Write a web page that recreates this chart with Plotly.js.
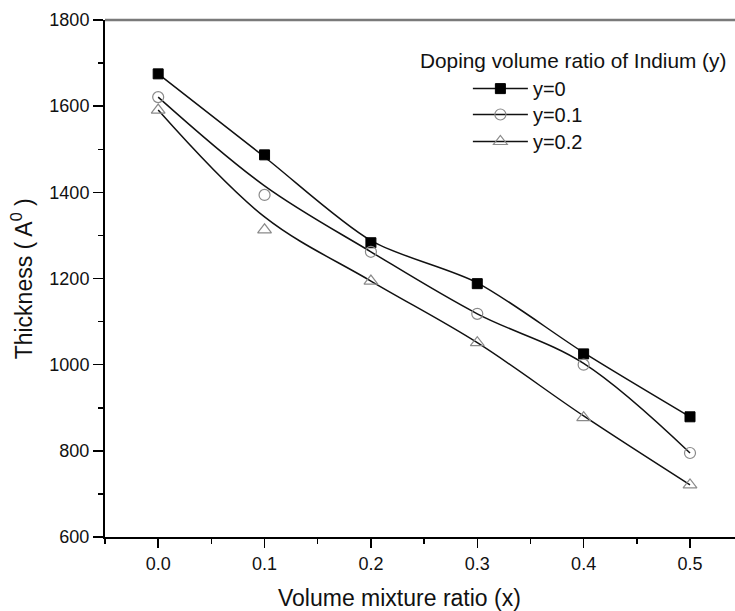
<!DOCTYPE html>
<html><head><meta charset="utf-8">
<script src="https://cdn.plot.ly/plotly-3.0.1.min.js"></script>
<style>html,body{margin:0;padding:0;background:#fff}#chart{width:735px;height:611px}</style>
</head><body><div id="chart"></div>
<script>
// data
const xValues = [0, 0.1, 0.2, 0.3, 0.4, 0.5];
const seriesNames = ['y=0', 'y=0.1', 'y=0.2'];
const thickY0  = [1675, 1487, 1283, 1188, 1025, 879];
const thickY01 = [1621, 1394, 1262, 1118, 1000, 795];
const thickY02 = [1591, 1313, 1194, 1051, 877, 721];
// smoothed fit curves as drawn in the reference (values read at the same x)
const fitY0  = [1675, 1482, 1288, 1190, 1028, 879];
const fitY01 = [1621, 1415, 1262, 1118, 1003, 795];
const fitY02 = [1591, 1343, 1194, 1051, 881, 721];
const xTickVals = [0, 0.1, 0.2, 0.3, 0.4, 0.5];
const xTickText = ['0.0', '0.1', '0.2', '0.3', '0.4', '0.5'];
const yTickVals = [600, 800, 1000, 1200, 1400, 1600, 1800];

const FONT = 'Liberation Sans, Arial, sans-serif';
const markerStyles = [
  {symbol: 'square', size: 10, color: '#000', line: {color: '#000', width: 1}},
  {symbol: 'circle-open', size: 11, color: '#8a8a8a', line: {color: '#8a8a8a', width: 1.2}},
  {symbol: 'triangle-up-open', size: 12, color: '#8a8a8a', line: {color: '#8a8a8a', width: 1.2}}
];
const dataSets = [thickY0, thickY01, thickY02];
const fitSets = [fitY0, fitY01, fitY02];
const smoothings = [0.8, 1.0, 1.0];
const legendIds = ['legend', 'legend2', 'legend3'];

const traces = [];
for (let i = 0; i < 3; i++) {
  traces.push({x: xValues, y: fitSets[i], mode: 'lines', type: 'scatter',
    line: {color: '#111', width: 1.5, shape: 'spline', smoothing: smoothings[i]}, showlegend: false, hoverinfo: 'skip'});
}
for (let i = 0; i < 3; i++) {
  traces.push({x: xValues, y: dataSets[i], mode: 'markers', type: 'scatter',
    marker: markerStyles[i], showlegend: false, name: seriesNames[i]});
}
for (let i = 0; i < 3; i++) {
  traces.push({x: [null], y: [null], mode: 'lines+markers', type: 'scatter', name: seriesNames[i],
    line: {color: '#111', width: 1.5}, marker: markerStyles[i], showlegend: true, legend: legendIds[i]});
}

function legendAt(yPaper) {
  return {x: 0.576, xanchor: 'left', y: yPaper, yanchor: 'top', bgcolor: 'rgba(0,0,0,0)',
    font: {family: FONT, size: 20, color: '#111'}, itemwidth: 55};
}

const layout = {
  width: 735, height: 611,
  margin: {l: 105, r: 0, t: 20, b: 74},
  paper_bgcolor: '#fff', plot_bgcolor: '#fff',
  font: {family: FONT, color: '#111', size: 18},
  showlegend: true,
  legend: legendAt(0.905),
  legend2: legendAt(0.8549),
  legend3: legendAt(0.8027),
  xaxis: {range: [-0.05, 0.5423], tickvals: xTickVals, ticktext: xTickText,
    showgrid: false, zeroline: false, showline: true, linecolor: '#000', linewidth: 2,
    ticks: 'outside', ticklen: 9, tickwidth: 1.5, tickcolor: '#000',
    tickfont: {family: FONT, size: 18, color: '#111'},
    minor: {dtick: 0.05, tick0: 0, ticks: 'outside', ticklen: 5, tickwidth: 1.5, tickcolor: '#000'}},
  yaxis: {range: [600, 1800], tickvals: yTickVals,
    showgrid: false, zeroline: false, showline: true, linecolor: '#000', linewidth: 2,
    ticks: 'outside', ticklen: 10, tickwidth: 1.5, tickcolor: '#000',
    tickfont: {family: FONT, size: 18, color: '#111'},
    minor: {dtick: 100, tick0: 600, ticks: 'outside', ticklen: 5, tickwidth: 1.5, tickcolor: '#000'}},
  shapes: [{type: 'line', xref: 'paper', yref: 'paper', x0: 0, x1: 1, y0: 1, y1: 1,
    line: {color: '#7a7a7a', width: 2.5}}],
  annotations: [
    {text: 'Doping volume ratio of Indium (y)', xref: 'paper', yref: 'paper', x: 0.497, y: 0.9226,
      xanchor: 'left', yanchor: 'middle', showarrow: false, font: {family: FONT, size: 20.8, color: '#111'}},
    {text: 'Volume mixture ratio (x)', xref: 'paper', yref: 'paper', x: 0.468, y: -0.118,
      xanchor: 'center', yanchor: 'middle', showarrow: false, font: {family: FONT, size: 23, color: '#111'}},
    {text: 'Thickness ( A<sup>0</sup> )', xref: 'paper', yref: 'paper', x: -0.132, y: 0.5,
      xanchor: 'center', yanchor: 'middle', textangle: -90, showarrow: false, font: {family: FONT, size: 23, color: '#111'}}
  ]
};
Plotly.newPlot('chart', traces, layout, {displayModeBar: false, staticPlot: true});
</script>
</body></html>
